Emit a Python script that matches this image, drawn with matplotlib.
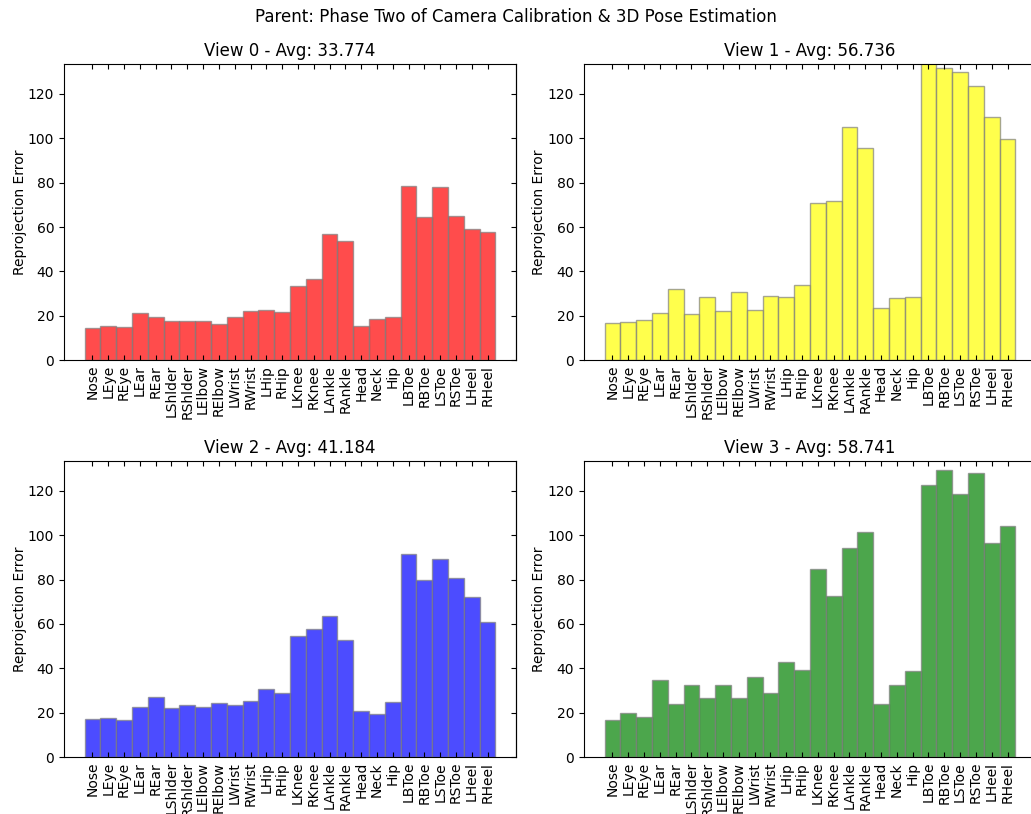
import numpy as np
import matplotlib
matplotlib.use('Agg')
import matplotlib.pyplot as plt

joints = ['Nose', 'LEye', 'REye', 'LEar', 'REar', 'LShlder', 'RShlder',
          'LElbow', 'RElbow', 'LWrist', 'RWrist', 'LHip', 'RHip', 'LKnee',
          'RKnee', 'LAnkle', 'RAnkle', 'Head', 'Neck', 'Hip', 'LBToe',
          'RBToe', 'LSToe', 'RSToe', 'LHeel', 'RHeel']

# reprojection error per joint for each camera view
view0 = [14.5, 15.4, 14.9, 21.0, 19.6, 17.6, 17.6, 17.6, 16.3, 19.6, 22.0,
         22.6, 21.6, 33.4, 36.7, 56.9, 53.9, 15.4, 18.7, 19.6, 78.7, 64.4,
         78.2, 65.0, 59.1, 57.8]
view1 = [16.7, 17.2, 18.2, 21.0, 32.1, 20.7, 28.6, 22.0, 30.6, 22.5, 29.1,
         28.6, 33.9, 71.0, 71.9, 105.2, 95.7, 23.5, 28.2, 28.6, 137.0, 131.5,
         130.1, 123.4, 109.7, 99.6]
view2 = [17.2, 17.6, 16.6, 22.5, 27.1, 21.9, 23.4, 22.5, 24.3, 23.4, 25.3,
         30.5, 29.1, 54.5, 57.8, 63.5, 53.0, 20.9, 19.4, 24.7, 91.6, 79.9,
         89.4, 80.8, 72.2, 61.0]
view3 = [16.7, 20.0, 18.1, 34.8, 23.8, 32.4, 26.7, 32.4, 26.7, 36.2, 29.1,
         43.0, 39.1, 85.0, 72.8, 94.2, 101.3, 23.8, 32.4, 38.8, 122.5, 129.4,
         118.7, 128.0, 96.5, 104.2]
views = [view0, view1, view2, view3]
averages = [33.774, 56.736, 41.184, 58.741]
colors = ['red', 'yellow', 'blue', 'green']

fig = plt.figure(figsize=(10.31, 8.14), dpi=100)
fig.suptitle('Parent: Phase Two of Camera Calibration & 3D Pose Estimation',
             fontsize=12, y=0.99)

w, h = 0.4384, 0.3636
positions = [(0.0621, 0.5577), (0.5664, 0.5577),
             (0.0621, 0.0700), (0.5664, 0.0700)]

x = np.arange(len(joints))
yt = np.arange(0, 121, 20)
for i in range(4):
    ax = fig.add_axes([positions[i][0], positions[i][1], w, h])
    ax.bar(x, views[i], width=1.0, color=colors[i], alpha=0.7,
           edgecolor='gray', linewidth=1)
    ax.set_title('View %d - Avg: %.3f' % (i, averages[i]), fontsize=12)
    ax.set_ylabel('Reprojection Error', labelpad=1)
    ax.set_xticks(x)
    ax.set_xticklabels(joints, rotation=90)
    ax.set_ylim(0, 133.5)
    ax.set_yticks(yt)
    ax.tick_params(axis='x', direction='in', top=True)
    ax.tick_params(axis='y', direction='out', left=True, right=False)
    # inward ticks on the right edge
    ax_r = ax.secondary_yaxis('right')
    ax_r.set_yticks(yt)
    ax_r.set_yticklabels([])
    ax_r.tick_params(direction='in')

plt.savefig('out.png', dpi=100)
plt.close()
